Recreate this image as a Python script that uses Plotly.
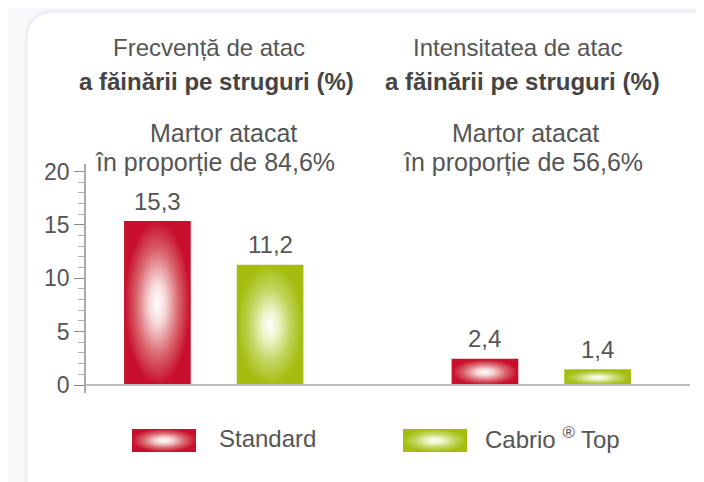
import plotly.graph_objects as go

# data
groups = ["Frecvență de atac", "Intensitatea de atac"]
series = ["Standard", "Cabrio ® Top"]
standard = [15.3, 2.4]
cabrio = [11.2, 1.4]
labels_standard = ["15,3", "2,4"]
labels_cabrio = ["11,2", "1,4"]
y_ticks = [0, 5, 10, 15, 20]

red = "#c8102e"
green = "#a5bd10"
txt = "#555555"
FONT = "Liberation Sans"

# page body keeps an 8px margin, so the figure is made smaller and everything
# is laid out in window pixels
OFF = 8
L, T, W, H = 86, 164, 604, 298   # plot area in window pixels
FW, FH = 704 - OFF, 482 - OFF


def px(x):
    return (x - L) / W


def py(y):
    return (T + H - y) / H


def grad(col):
    mid1 = "#f6d9d9" if col == red else "#eef3c8"
    mid2 = "#d9646c" if col == red else "#bfd256"
    return dict(type="radial", colorscale=[[0, "#ffffff"], [0.25, mid1], [0.65, mid2], [1, col]])


fig = go.Figure()

centers = [0, 1]
offsets = [-0.172, 0.172]
bw = 0.199
for si, (vals, labs, col) in enumerate([(standard, labels_standard, red), (cabrio, labels_cabrio, green)]):
    for gi, v in enumerate(vals):
        c = centers[gi] + offsets[si]
        fig.add_trace(go.Scatter(
            x=[c - bw / 2, c + bw / 2, c + bw / 2, c - bw / 2, c - bw / 2],
            y=[0, 0, v, v, 0], mode="lines", fill="toself",
            fillgradient=grad(col), line=dict(color=col, width=1.5),
            hoverinfo="skip", showlegend=False))
        fig.add_annotation(x=c, y=v, text=labs[gi], showarrow=False, xref="x", yref="y",
                           xanchor="center", yanchor="bottom", yshift=5,
                           font=dict(size=24, color=txt, family=FONT))

# legend swatches on their own axes
leg_x = [164, 435]
leg_text_x = [217, 483]
for si, col in enumerate([red, green]):
    cx = leg_x[si]
    fig.add_trace(go.Scatter(
        x=[cx - 32, cx + 32, cx + 32, cx - 32, cx - 32],
        y=[429, 429, 452, 452, 429], mode="lines", fill="toself",
        fillgradient=grad(col), line=dict(color=col, width=0),
        hoverinfo="skip", showlegend=False, xaxis="x2", yaxis="y2"))
    fig.add_annotation(x=px(leg_text_x[si]), y=py(438), xref="paper", yref="paper",
                       text=series[si].replace("®", "<sup>®</sup>"), showarrow=False,
                       xanchor="left", yanchor="middle", font=dict(size=24, color=txt, family=FONT))

# titles: (line text, y, x-centre left, x-centre right, size, colour)
title_rows = [
    (groups, 47, 209, 517, 24, txt),
    (["<b>a făinării pe struguri (%)</b>"] * 2, 81, 216, 522, 24, "#444444"),
    (["Martor atacat"] * 2, 133, 223, 525, 25, txt),
    (["în proporție de 84,6%", "în proporție de 56,6%"], 162, 215, 523, 25, txt),
]
for texts, yy, xl, xr, sz, col in title_rows:
    for t, cx in zip(texts, [xl, xr]):
        fig.add_annotation(x=px(cx), y=py(yy), xref="paper", yref="paper", text=t,
                           showarrow=False, xanchor="center", yanchor="middle",
                           font=dict(size=sz, color=col, family=FONT))

# card background and baseline
fig.add_shape(type="path", xref="paper", yref="paper",
              path=f"M {px(26)},{py(520)} L {px(26)},{py(42)} Q {px(26)},{py(11)} {px(57)},{py(11)} "
                   f"L {px(760)},{py(11)} L {px(760)},{py(520)} Z",
              fillcolor="white", line=dict(color="#eeeef4", width=3), layer="below")
fig.add_shape(type="line", xref="paper", yref="y", x0=0, x1=1, y0=0, y1=0,
              line=dict(color="#bdbdbd", width=2))

fig.update_layout(
    width=FW, height=FH,
    margin=dict(l=L - OFF, r=FW - (L - OFF) - W, t=T - OFF, b=FH - (T - OFF) - H, autoexpand=False),
    paper_bgcolor="#f8f8fa", plot_bgcolor="rgba(0,0,0,0)", showlegend=False,
    xaxis=dict(range=[-0.39, 1.454], visible=False, domain=[0, 1]),
    yaxis=dict(range=[-0.7, 20.7], domain=[py(392.5), 1], tickvals=y_ticks,
               showgrid=False, zeroline=False, showline=True, linecolor="#aaaaaa", linewidth=1.5,
               ticks="outside", ticklen=10, tickcolor="#888888", tickwidth=1,
               minor=dict(dtick=1, ticks="outside", ticklen=6, tickcolor="#aaaaaa", showgrid=False),
               tickfont=dict(size=23, color=txt, family=FONT)),
    xaxis2=dict(range=[L, L + W], visible=False, anchor="y2", domain=[0, 1]),
    yaxis2=dict(range=[T + H, 400], visible=False, anchor="x2", domain=[0, py(400)]),
)

fig.write_html("out.html")
